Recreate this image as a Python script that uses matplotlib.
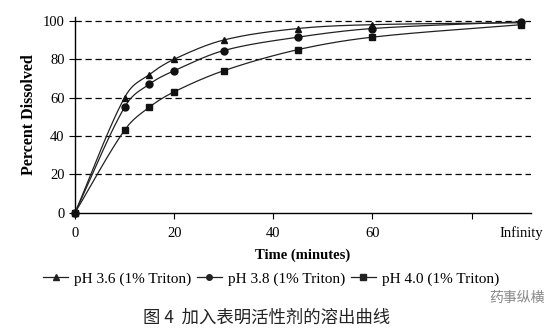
import numpy as np
import matplotlib
matplotlib.use("Agg")
import matplotlib.pyplot as plt
from matplotlib.lines import Line2D

# Dissolution data (time in minutes; "Infinity" plotted at position 90)
time_pts = [0, 10, 15, 20, 30, 45, 60, 90]
ph36 = [0, 60, 72, 80, 90, 96, 98, 99]
ph38 = [0, 55, 67, 74, 84.5, 91.5, 96, 99.5]
ph40 = [0, 43, 55, 63, 74, 85, 91.5, 98]
series_labels = ["pH 3.6 (1% Triton)", "pH 3.8 (1% Triton)", "pH 4.0 (1% Triton)"]
markers = ["^", "o", "s"]
xtick_pos = [0, 20, 40, 60, 80, 90]
xtick_labels = ["0", "20", "40", "60", "", "Infinity"]
ytick_pos = [0, 20, 40, 60, 80, 100]


def smooth(x, y, n=40):
    """Cubic Hermite curve through the points, tangents from neighbouring slopes."""
    x = np.asarray(x, float)
    y = np.asarray(y, float)
    m = np.empty_like(y)
    m[0] = (y[1] - y[0]) / (x[1] - x[0])
    m[-1] = (y[-1] - y[-2]) / (x[-1] - x[-2])
    m[1:-1] = (y[2:] - y[:-2]) / (x[2:] - x[:-2])
    xs, ys = [], []
    for i in range(len(x) - 1):
        h = x[i + 1] - x[i]
        t = np.linspace(0, 1, n)
        h00 = 2 * t ** 3 - 3 * t ** 2 + 1
        h10 = t ** 3 - 2 * t ** 2 + t
        h01 = -2 * t ** 3 + 3 * t ** 2
        h11 = t ** 3 - t ** 2
        xs.append(x[i] + h * t)
        ys.append(h00 * y[i] + h10 * h * m[i] + h01 * y[i + 1] + h11 * h * m[i + 1])
    return np.concatenate(xs), np.concatenate(ys)


serif = ["Liberation Serif", "DejaVu Serif"]
plt.rcParams["font.family"] = serif
cjk = ["Noto Sans CJK SC", "DejaVu Sans"]

fig = plt.figure(figsize=(5.59, 3.30), dpi=100)
ax = fig.add_axes([75 / 559, 117.3 / 330, (531 - 75) / 559, (212.7 - 17) / 330])

for ys, m in zip([ph36, ph38, ph40], markers):
    sx, sy = smooth(time_pts, ys)
    ax.plot(sx, sy, color="#222222", lw=0.9, clip_on=False, zorder=3)
    ax.plot(time_pts, ys, linestyle="none", marker=m, color="#111111",
            markersize=5, clip_on=False, zorder=4)

for yv in ytick_pos[1:]:
    ax.axhline(yv, color="black", lw=0.9, ls=(0, (5, 3)), zorder=1)

ax.set_xlim(0, 92)
ax.set_ylim(0, 102)
ax.set_xticks(xtick_pos)
ax.set_xticklabels(xtick_labels)
ax.set_yticks(ytick_pos)
ax.tick_params(axis="both", labelsize=10.5, length=4, width=0.8, direction="out")
ax.tick_params(axis="x", pad=6)
ax.xaxis.get_major_ticks()[-1].tick1line.set_visible(False)
for s in ["top", "right"]:
    ax.spines[s].set_visible(False)
for s in ["left", "bottom"]:
    ax.spines[s].set_linewidth(1.0)

ax.set_xlabel("Time (minutes)", fontsize=10.5, fontweight="bold", labelpad=6)
ax.set_ylabel("Percent Dissolved", fontsize=11.5, fontweight="bold", labelpad=4)

handles = [Line2D([], [], color="#222222", lw=0.9, marker=m, markersize=4)
           for m in markers]
fig.legend(handles, series_labels, loc="center", bbox_to_anchor=(0.485, 1 - 279 / 330),
           ncol=3, frameon=False, fontsize=11, handlelength=1.6, handletextpad=0.4,
           columnspacing=0.4)

fig.text(0.476, 1 - 318 / 330, "图 4  加入表明活性剂的溶出曲线", ha="center", va="center",
         fontsize=12.5, family=cjk, color="#222222")
fig.text(0.925, 1 - 298 / 330, "药事纵横", ha="center", va="center", fontsize=10,
         family=cjk, color="#888888")

fig.savefig("out.png", dpi=100)
